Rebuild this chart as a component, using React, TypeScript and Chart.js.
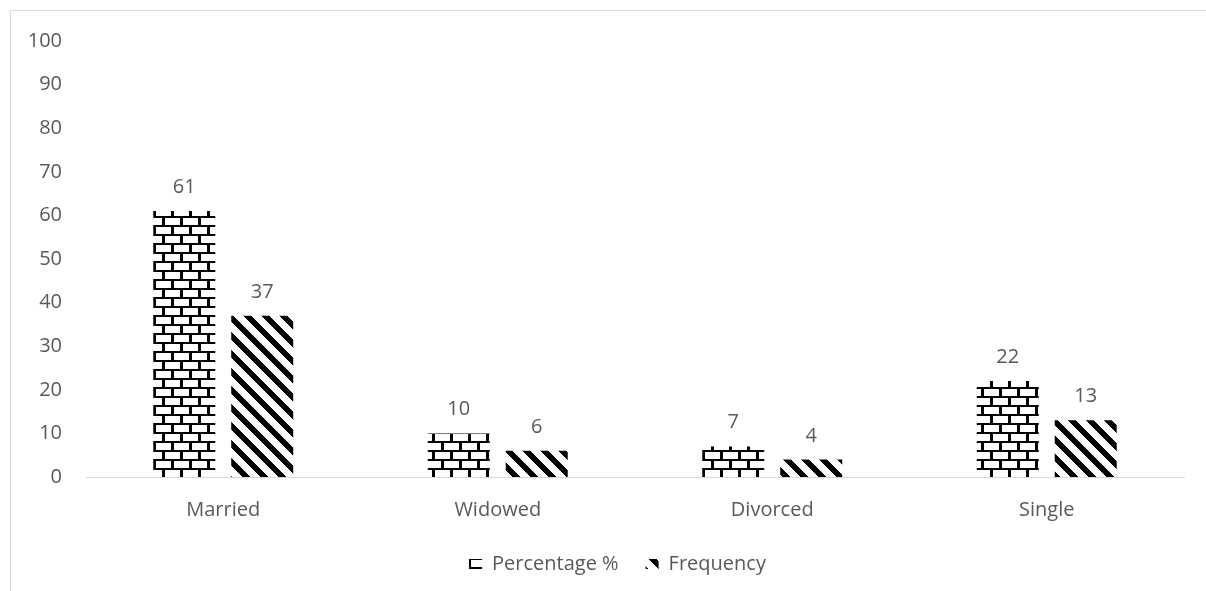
import React, { useEffect, useRef } from "react";
import { Chart, registerables } from "chart.js";

Chart.register(...registerables);

const categories = ["Married", "Widowed", "Divorced", "Single"];
const percentageValues = [61, 10, 7, 22];
const frequencyValues = [37, 6, 4, 13];
const seriesLabels = ["Percentage %", "Frequency"];
const yTicks = [0, 10, 20, 30, 40, 50, 60, 70, 80, 90, 100];

const TEXT = "#595959";
const FONT = "'Open Sans', sans-serif";

function makeTile(w: number, h: number, isBlack: (x: number, y: number) => boolean): HTMLCanvasElement {
  const c = document.createElement("canvas");
  c.width = w;
  c.height = h;
  const ctx = c.getContext("2d")!;
  const img = ctx.createImageData(w, h);
  for (let y = 0; y < h; y++) {
    for (let x = 0; x < w; x++) {
      const i = (y * w + x) * 4;
      const b = isBlack(x, y);
      img.data[i] = b ? 0 : 255;
      img.data[i + 1] = b ? 0 : 255;
      img.data[i + 2] = b ? 0 : 255;
      img.data[i + 3] = 255;
    }
  }
  ctx.putImageData(img, 0, 0);
  return c;
}

export default function App() {
  const ref = useRef<HTMLCanvasElement | null>(null);

  useEffect(() => {
    const canvas = ref.current;
    if (!canvas) return;
    const ctx = canvas.getContext("2d")!;

    const brickTile = makeTile(18, 18, (x, y) => {
      if (y % 9 < 2) return true;
      const row = Math.floor(y / 9);
      const off = row % 2 ? 9 : 0;
      return (((x - off) % 18) + 18) % 18 < 3;
    });
    const diagTile = makeTile(18, 18, (x, y) => ((((x - y) % 18) + 18) % 18) < 8);
    const brick = ctx.createPattern(brickTile, "repeat")!;
    const diag = ctx.createPattern(diagTile, "repeat")!;

    const framePlugin = {
      id: "frame",
      afterLayout(chart: any) {
        if (chart.legend) chart.legend.left = 51;
      },
      beforeDraw(chart: any) {
        const c = chart.ctx;
        c.save();
        c.fillStyle = "#ffffff";
        c.fillRect(0, 0, chart.width, chart.height);
        c.strokeStyle = "#d9d9d9";
        c.lineWidth = 1;
        c.beginPath();
        c.moveTo(10.5, chart.height);
        c.lineTo(10.5, 10.5);
        c.lineTo(chart.width, 10.5);
        c.stroke();
        c.restore();
      },
    };

    const labelPlugin = {
      id: "valueLabels",
      afterDatasetsDraw(chart: any) {
        const c = chart.ctx;
        c.save();
        c.font = `20px ${FONT}`;
        c.fillStyle = TEXT;
        c.textAlign = "center";
        c.textBaseline = "alphabetic";
        chart.data.datasets.forEach((ds: any, di: number) => {
          const meta = chart.getDatasetMeta(di);
          meta.data.forEach((el: any, i: number) => {
            c.fillText(String(ds.data[i]), el.x, el.y - 18);
          });
        });
        c.restore();
      },
    };

    const chart = new Chart(canvas, {
      type: "bar",
      data: {
        labels: categories,
        datasets: [
          {
            label: seriesLabels[0],
            data: percentageValues,
            backgroundColor: brick as any,
            borderWidth: 0,
            categoryPercentage: 0.568,
            barPercentage: 0.795,
          },
          {
            label: seriesLabels[1],
            data: frequencyValues,
            backgroundColor: diag as any,
            borderWidth: 0,
            categoryPercentage: 0.568,
            barPercentage: 0.795,
          },
        ],
      },
      options: {
        animation: false,
        responsive: false,
        devicePixelRatio: 1,
        layout: { padding: { top: 41, left: 0, right: 22, bottom: 7 } },
        font: { family: FONT, size: 20 } as any,
        plugins: {
          legend: {
            position: "bottom",
            labels: {
              color: TEXT,
              font: { family: FONT, size: 20 },
              boxWidth: 13,
              boxHeight: 10,
              padding: 27,
            },
          },
          tooltip: { enabled: false },
        },
        scales: {
          x: {
            grid: { display: false, drawTicks: false },
            border: { display: true, color: "#d9d9d9", width: 1 },
            ticks: { color: TEXT, font: { family: FONT, size: 20 }, padding: 21 },
            afterFit(scale: any) {
              scale.height = 50;
            },
          },
          y: {
            min: yTicks[0],
            max: yTicks[yTicks.length - 1],
            grid: { display: false, drawTicks: false },
            border: { display: false },
            ticks: {
              color: TEXT,
              font: { family: FONT, size: 20 },
              padding: 24,
              stepSize: yTicks[1] - yTicks[0],
              callback: (v: any) => String(v),
            },
            afterFit(scale: any) {
              scale.width = 86;
            },
          },
        },
      },
      plugins: [framePlugin, labelPlugin],
    });

    return () => chart.destroy();
  }, []);

  return (
    <div style={{ position: "fixed", left: 0, top: 0, width: 1206, height: 591, background: "#fff" }}>
      <canvas ref={ref} width={1206} height={591} style={{ display: "block" }} />
    </div>
  );
}
